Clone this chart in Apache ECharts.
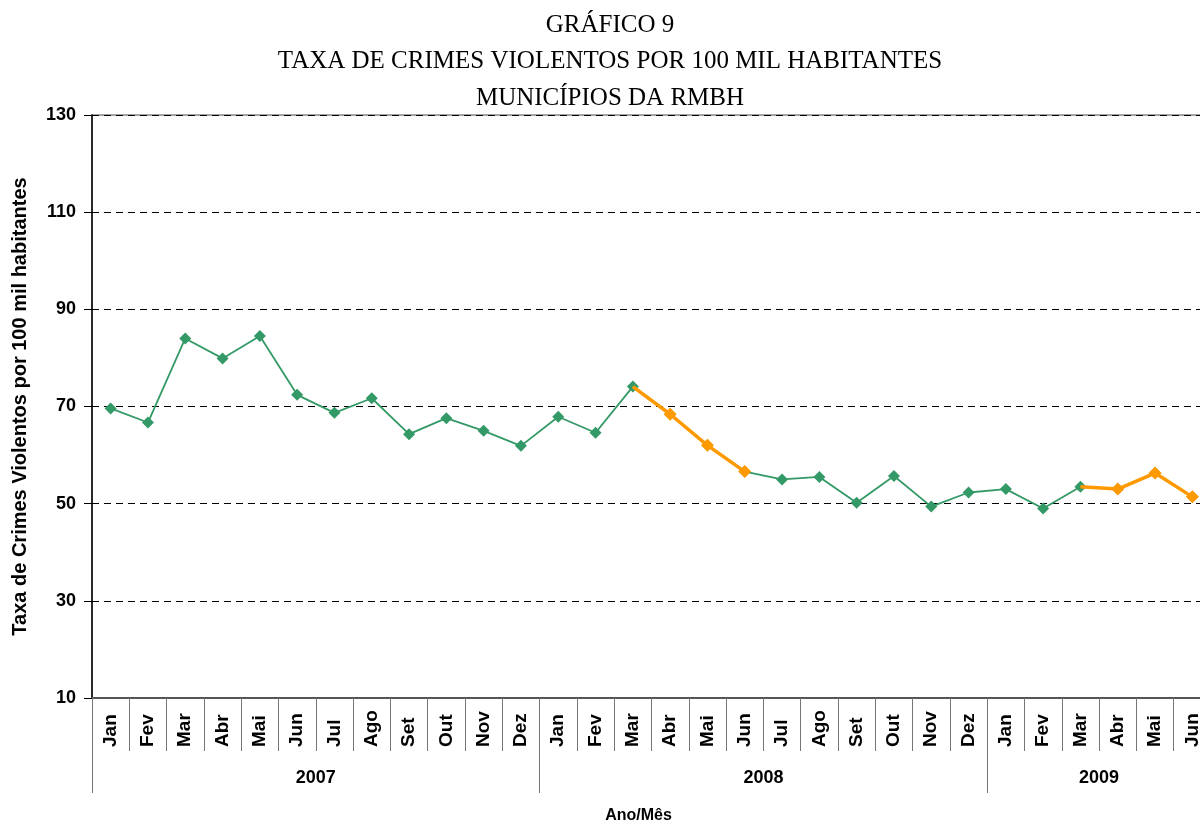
<!DOCTYPE html>
<html>
<head>
<meta charset="utf-8">
<script src="https://cdn.jsdelivr.net/npm/echarts@6/dist/echarts.min.js"></script>
<style>
html,body{margin:0;padding:0;background:#fff;}
#chart{width:1200px;height:823px;}
</style>
</head>
<body>
<div id="chart"></div>
<script>
const months = ['Jan','Fev','Mar','Abr','Mai','Jun','Jul','Ago','Set','Out','Nov','Dez',
                'Jan','Fev','Mar','Abr','Mai','Jun','Jul','Ago','Set','Out','Nov','Dez',
                'Jan','Fev','Mar','Abr','Mai','Jun'];
const years = ['2007','2008','2009'];
const monthsPerYear = [12, 12, 6];
const rate = [69.6, 66.7, 84.0, 79.9, 84.5, 72.4, 68.7, 71.7, 64.3, 67.6, 65.0, 61.9,
              67.9, 64.6, 74.1, 68.4, 62.0, 56.6, 55.0, 55.5, 50.2, 55.7, 49.4, 52.3,
              53.0, 49.0, 53.5, 53.0, 56.3, 51.4];
// highlighted (orange) periods: [startIndex, endIndex]
const highlightRanges = [[14, 17], [26, 29]];
const yTicks = {min: 10, max: 130, interval: 20};
const titleLines = ['GRÁFICO 9', 'TAXA DE CRIMES VIOLENTOS POR 100 MIL HABITANTES', 'MUNICÍPIOS DA RMBH'];

// build year-per-month list and year boundary / label indices
const yearOfMonth = [];
const yearStart = [];
const yearLabelIdx = {};
let acc = 0;
years.forEach((y, k) => {
  yearStart.push(acc);
  yearLabelIdx[acc + monthsPerYear[k] / 2 - 1] = y;
  for (let i = 0; i < monthsPerYear[k]; i++) yearOfMonth.push(y);
  acc += monthsPerYear[k];
});

const orangeData = rate.map((v, i) => {
  for (const [s, e] of highlightRanges) {
    if (i === s) return {value: v, symbol: 'none'};
    if (i > s && i <= e) return v;
  }
  return '-';
});

const chart = echarts.init(document.getElementById('chart'));
chart.setOption({
  animation: false,
  backgroundColor: '#fff',
  title: {
    text: titleLines.join('\n'),
    left: 605,
    top: 2,
    textAlign: 'center',
    textStyle: {fontFamily: 'Liberation Serif', fontSize: 25, fontWeight: 'normal', color: '#000', lineHeight: 36.5}
  },
  grid: {left: 92, top: 115, width: 1119, height: 583, show: true, borderColor: '#888', borderWidth: 1.5,
         containLabel: false, outerBoundsMode: 'none'},
  xAxis: [{
    type: 'category',
    data: months,
    boundaryGap: true,
    position: 'bottom',
    axisLine: {lineStyle: {color: '#555', width: 2}},
    axisTick: {show: true, length: 53, lineStyle: {color: '#777', width: 1}},
    axisLabel: {interval: 0, rotate: 90, align: 'left', verticalAlign: 'middle', margin: 49,
      fontFamily: 'Liberation Sans', fontWeight: 'bold', fontSize: 19, color: '#000'},
    splitLine: {show: false}
  }, {
    type: 'category',
    data: yearOfMonth,
    boundaryGap: true,
    position: 'bottom',
    offset: 53,
    axisLine: {show: false},
    axisTick: {show: true, length: 42, interval: (i) => yearStart.indexOf(i) >= 0, lineStyle: {color: '#777', width: 1}},
    axisLabel: {interval: 0, margin: 18, padding: [0, 0, 0, 37.3],
      formatter: (v, i) => (yearLabelIdx[i] !== undefined ? yearLabelIdx[i] : ''),
      fontFamily: 'Liberation Sans', fontWeight: 'bold', fontSize: 18, color: '#000'},
    name: 'Ano/Mês',
    nameLocation: 'middle',
    nameGap: 57,
    nameTextStyle: {fontFamily: 'Liberation Sans', fontWeight: 'bold', fontSize: 16, color: '#000', padding: [0, 26, 0, 0]}
  }],
  yAxis: {
    type: 'value',
    min: yTicks.min, max: yTicks.max, interval: yTicks.interval,
    axisLine: {show: true, lineStyle: {color: '#000', width: 1.5}},
    axisTick: {show: true, length: 8, lineStyle: {color: '#000', width: 1}},
    axisLabel: {margin: 16, fontFamily: 'Liberation Sans', fontWeight: 'bold', fontSize: 18, color: '#000'},
    splitLine: {show: true, lineStyle: {color: '#000', type: [7, 5], width: 1}},
    name: 'Taxa de Crimes Violentos por 100 mil habitantes',
    nameLocation: 'middle',
    nameGap: 62,
    nameTextStyle: {fontFamily: 'Liberation Sans', fontWeight: 'bold', fontSize: 20, color: '#000'}
  },
  series: [{
    type: 'line',
    data: rate,
    symbol: 'diamond',
    symbolSize: 12,
    showAllSymbol: true,
    lineStyle: {color: '#339966', width: 1.8},
    itemStyle: {color: '#339966'},
    z: 2
  }, {
    type: 'line',
    data: orangeData,
    symbol: 'diamond',
    symbolSize: 13,
    showAllSymbol: true,
    connectNulls: false,
    lineStyle: {color: '#FF9900', width: 3.5},
    itemStyle: {color: '#FF9900'},
    z: 3
  }]
});
</script>
</body>
</html>
